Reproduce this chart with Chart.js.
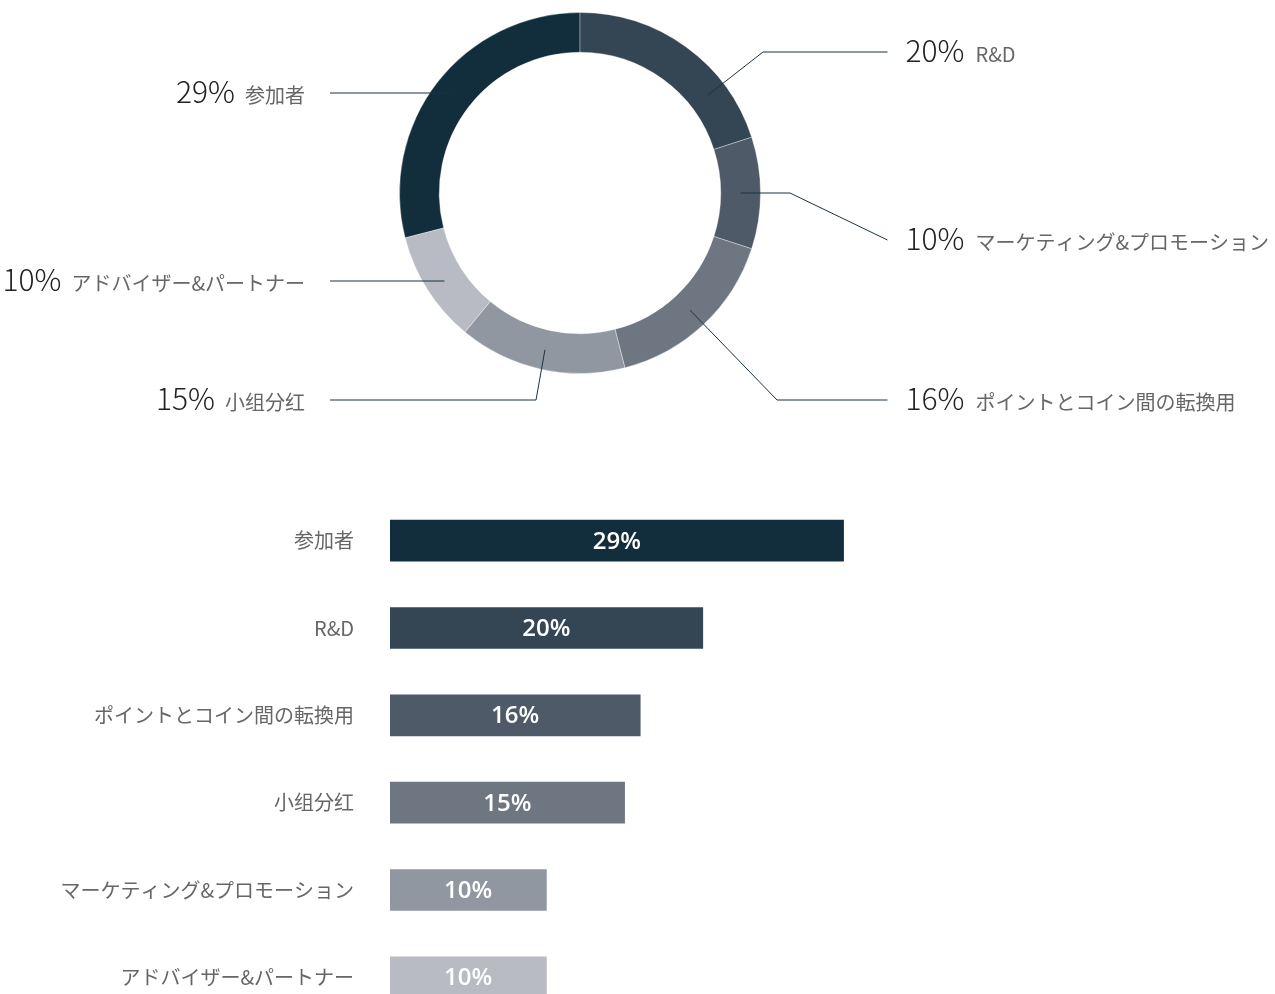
<!DOCTYPE html>
<html lang="ja">
<head>
<meta charset="utf-8">
<title>配分</title>
<script src="https://cdn.jsdelivr.net/npm/chart.js@4.4.1/dist/chart.umd.min.js"></script>
<style>
  html, body { margin: 0; padding: 0; background: #ffffff; overflow: hidden; }
  body { position: relative; width: 1275px; height: 994px; }
  #ringWrap { position: absolute; left: 0; top: 0; width: 1275px; height: 450px; }
  #barWrap { position: absolute; left: 0; top: 497px; width: 1275px; height: 524px; }
  canvas { display: block; }
</style>
</head>
<body>
<div id="ringWrap"><canvas id="ring" width="1275" height="450"></canvas></div>
<div id="barWrap"><canvas id="bars" width="1275" height="524"></canvas></div>
<script>
// Allocation categories and their shares (percent)
const categories = ['参加者', 'R&D', 'マーケティング&プロモーション', 'ポイントとコイン間の転換用', '小组分红', 'アドバイザー&パートナー'];
const shares = [29, 20, 10, 16, 15, 10];
const palette = ['#122d3c', '#344653', '#4e5a68', '#6e7682', '#9097a0', '#b8bbc3'];

// Bar chart rows: same categories, largest share first
const barOrder = categories.map((c, i) => i).sort((a, b) => shares[b] - shares[a]);
const barLabels = barOrder.map(i => categories[i]);
const barValues = barOrder.map(i => shares[i]);

const NUM_FONT = '300 30px "Noto Sans CJK JP", "Noto Sans", sans-serif';
const NAME_FONT = '400 20px "Noto Sans CJK JP", "Noto Sans", sans-serif';
const LINE_COLOR = '#1b3342';

// Callout layout per slice, offsets measured from the ring centre.
// kind 'flat': horizontal line at the label height into the slice
// kind 'bendLabel': slanted from the slice, then flat at label height
// kind 'bendAnchor': flat from the slice, then slanted to the label
const callouts = [
  { side: 'left',  dy: -100, kind: 'flat' },
  { side: 'right', dy: -141, kind: 'bendLabel', elbowDx: 183, frac: 0.73 },
  { side: 'right', dy: 47,   kind: 'bendAnchor', elbowDx: 210 },
  { side: 'right', dy: 207,  kind: 'bendLabel', elbowDx: 197 },
  { side: 'left',  dy: 207,  kind: 'bendLabel', elbowDx: -44 },
  { side: 'left',  dy: 88,   kind: 'flat' }
];
const RIGHT_END = 307.5, LEFT_END = -250;

const calloutPlugin = {
  id: 'callouts',
  afterDatasetsDraw(chart) {
    const ctx = chart.ctx;
    const arcs = chart.getDatasetMeta(0).data;
    ctx.save();
    arcs.forEach((arc, i) => {
      const c = callouts[i];
      const frac = c.frac != null ? c.frac : 0.5;
      const ang = arc.startAngle + (arc.endAngle - arc.startAngle) * frac;
      const r = (arc.innerRadius + arc.outerRadius) / 2;
      const ax = arc.x + Math.cos(ang) * r;
      const ay = arc.y + Math.sin(ang) * r;
      const ly = arc.y + c.dy;
      const endX = arc.x + (c.side === 'right' ? RIGHT_END : LEFT_END);
      const pts = [];
      if (c.kind === 'flat') {
        pts.push([ax, ly], [endX, ly]);
      } else if (c.kind === 'bendLabel') {
        pts.push([ax, ay], [arc.x + c.elbowDx, ly], [endX, ly]);
      } else {
        pts.push([ax, ay], [arc.x + c.elbowDx, ay], [endX, ly]);
      }
      ctx.beginPath();
      ctx.strokeStyle = LINE_COLOR;
      ctx.lineWidth = 1;
      pts.forEach((p, k) => k ? ctx.lineTo(p[0], p[1]) : ctx.moveTo(p[0], p[1]));
      ctx.stroke();

      const num = shares[i] + '%';
      const name = categories[i];
      const base = ly + 10;
      ctx.textBaseline = 'alphabetic';
      if (c.side === 'right') {
        let x = endX + 18;
        ctx.textAlign = 'left';
        ctx.font = NUM_FONT; ctx.fillStyle = '#222222';
        ctx.fillText(num, x, base);
        x += ctx.measureText(num).width + 11;
        ctx.font = NAME_FONT; ctx.fillStyle = '#666666';
        ctx.fillText(name, x, base);
      } else {
        let x = endX - 25;
        ctx.textAlign = 'right';
        ctx.font = NAME_FONT; ctx.fillStyle = '#666666';
        ctx.fillText(name, x, base);
        x -= ctx.measureText(name).width + 10;
        ctx.font = NUM_FONT; ctx.fillStyle = '#222222';
        ctx.fillText(num, x, base);
      }
    });
    ctx.restore();
  }
};

const total = shares.reduce((a, b) => a + b, 0);
new Chart(document.getElementById('ring'), {
  type: 'doughnut',
  data: {
    labels: categories,
    datasets: [{
      data: shares,
      backgroundColor: palette,
      borderColor: 'rgba(255,255,255,0.35)',
      borderWidth: 1,
      hoverOffset: 0
    }]
  },
  options: {
    responsive: false,
    animation: false,
    cutout: '78%',
    rotation: -shares[0] / total * 360,
    layout: { padding: { left: 399, right: 514, top: 12, bottom: 76 } },
    plugins: { legend: { display: false }, tooltip: { enabled: false } },
    events: []
  },
  plugins: [calloutPlugin]
});

const barValuePlugin = {
  id: 'barValues',
  afterDatasetsDraw(chart) {
    const ctx = chart.ctx;
    const meta = chart.getDatasetMeta(0);
    ctx.save();
    ctx.font = '600 24px "Open Sans", "Noto Sans", sans-serif';
    ctx.fillStyle = '#ffffff';
    ctx.textAlign = 'center';
    ctx.textBaseline = 'middle';
    meta.data.forEach((bar, i) => {
      ctx.fillText(barValues[i] + '%', (bar.x + bar.base) / 2, bar.y + 1);
    });
    ctx.restore();
  }
};

new Chart(document.getElementById('bars'), {
  type: 'bar',
  data: {
    labels: barLabels,
    datasets: [{
      data: barValues,
      backgroundColor: palette,
      barThickness: 41,
      borderWidth: 0
    }]
  },
  options: {
    indexAxis: 'y',
    responsive: false,
    animation: false,
    layout: { padding: { left: 0, right: 103, top: 0, bottom: 0 } },
    scales: {
      x: { min: 0, max: 50, display: false },
      y: {
        grid: { display: false, drawTicks: false },
        border: { display: false },
        ticks: {
          padding: 36,
          color: '#666666',
          font: { family: '"Noto Sans CJK JP", "Noto Sans", sans-serif', size: 20 }
        },
        afterFit(scale) {
          // fixed gutter for the row names; rows fill the full height
          scale.width = 390;
          scale.paddingTop = 0;
          scale.paddingBottom = 0;
        }
      }
    },
    plugins: { legend: { display: false }, tooltip: { enabled: false } },
    events: []
  },
  plugins: [barValuePlugin]
});
</script>
</body>
</html>
